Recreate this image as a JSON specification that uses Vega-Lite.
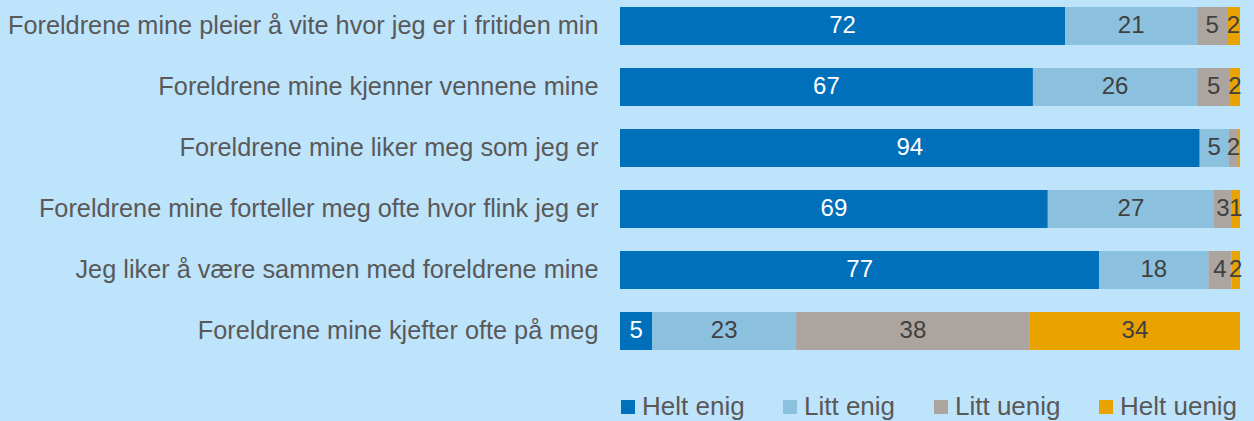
{
  "$schema": "https://vega.github.io/schema/vega-lite/v6.json",
  "autosize": "none",
  "width": 620,
  "height": 343,
  "padding": {"left": 620, "top": 7, "right": 14, "bottom": 71},
  "background": "#BEE4FC",
  "config": {
    "view": {"stroke": null},
    "font": "Liberation Sans"
  },
  "data": {
    "values": [
      {"q": "Foreldrene mine pleier å vite hvor jeg er i fritiden min", "c": "Helt enig", "k": 1, "v": 71.8, "label": "72"},
      {"q": "Foreldrene mine pleier å vite hvor jeg er i fritiden min", "c": "Litt enig", "k": 2, "v": 21.3, "label": "21"},
      {"q": "Foreldrene mine pleier å vite hvor jeg er i fritiden min", "c": "Litt uenig", "k": 3, "v": 4.8, "label": "5"},
      {"q": "Foreldrene mine pleier å vite hvor jeg er i fritiden min", "c": "Helt uenig", "k": 4, "v": 2.1, "label": "2"},
      {"q": "Foreldrene mine kjenner vennene mine", "c": "Helt enig", "k": 1, "v": 66.6, "label": "67"},
      {"q": "Foreldrene mine kjenner vennene mine", "c": "Litt enig", "k": 2, "v": 26.5, "label": "26"},
      {"q": "Foreldrene mine kjenner vennene mine", "c": "Litt uenig", "k": 3, "v": 5.3, "label": "5"},
      {"q": "Foreldrene mine kjenner vennene mine", "c": "Helt uenig", "k": 4, "v": 1.6, "label": "2"},
      {"q": "Foreldrene mine liker meg som jeg er", "c": "Helt enig", "k": 1, "v": 93.5, "label": "94"},
      {"q": "Foreldrene mine liker meg som jeg er", "c": "Litt enig", "k": 2, "v": 4.7, "label": "5"},
      {"q": "Foreldrene mine liker meg som jeg er", "c": "Litt uenig", "k": 3, "v": 1.5, "label": "2"},
      {"q": "Foreldrene mine liker meg som jeg er", "c": "Helt uenig", "k": 4, "v": 0.3, "label": ""},
      {"q": "Foreldrene mine forteller meg ofte hvor flink jeg er", "c": "Helt enig", "k": 1, "v": 69.0, "label": "69"},
      {"q": "Foreldrene mine forteller meg ofte hvor flink jeg er", "c": "Litt enig", "k": 2, "v": 26.8, "label": "27"},
      {"q": "Foreldrene mine forteller meg ofte hvor flink jeg er", "c": "Litt uenig", "k": 3, "v": 2.9, "label": "3"},
      {"q": "Foreldrene mine forteller meg ofte hvor flink jeg er", "c": "Helt uenig", "k": 4, "v": 1.3, "label": "1"},
      {"q": "Jeg liker å være sammen med foreldrene mine", "c": "Helt enig", "k": 1, "v": 77.3, "label": "77"},
      {"q": "Jeg liker å være sammen med foreldrene mine", "c": "Litt enig", "k": 2, "v": 17.6, "label": "18"},
      {"q": "Jeg liker å være sammen med foreldrene mine", "c": "Litt uenig", "k": 3, "v": 3.7, "label": "4"},
      {"q": "Jeg liker å være sammen med foreldrene mine", "c": "Helt uenig", "k": 4, "v": 1.4, "label": "2"},
      {"q": "Foreldrene mine kjefter ofte på meg", "c": "Helt enig", "k": 1, "v": 5.2, "label": "5"},
      {"q": "Foreldrene mine kjefter ofte på meg", "c": "Litt enig", "k": 2, "v": 23.2, "label": "23"},
      {"q": "Foreldrene mine kjefter ofte på meg", "c": "Litt uenig", "k": 3, "v": 37.7, "label": "38"},
      {"q": "Foreldrene mine kjefter ofte på meg", "c": "Helt uenig", "k": 4, "v": 33.9, "label": "34"}
    ]
  },
  "transform": [
    {"stack": "v", "groupby": ["q"], "sort": [{"field": "k", "order": "ascending"}], "as": ["x0", "x1"]}
  ],
  "encoding": {
    "y": {
      "field": "q",
      "type": "nominal",
      "sort": null,
      "scale": {"paddingInner": 0.377, "paddingOuter": 0},
      "axis": {
        "title": null,
        "domain": false,
        "ticks": false,
        "labelPadding": 22,
        "labelFontSize": 25.3,
        "labelColor": "#595959",
        "labelLimit": 0,
        "labelFont": "Liberation Sans"
      }
    }
  },
  "layer": [
    {
      "mark": {"type": "bar"},
      "encoding": {
        "x": {"field": "x0", "type": "quantitative", "scale": {"domain": [0, 100], "nice": false}, "axis": null},
        "x2": {"field": "x1"},
        "color": {
          "field": "c",
          "type": "nominal",
          "sort": ["Helt enig", "Litt enig", "Litt uenig", "Helt uenig"],
          "scale": {
            "domain": ["Helt enig", "Litt enig", "Litt uenig", "Helt uenig"],
            "range": ["#0070BA", "#8BC1DF", "#ACA59F", "#E9A300"]
          },
          "legend": {
            "title": null,
            "orient": "none",
            "legendX": -5,
            "legendY": 387,
            "direction": "horizontal",
            "symbolType": "square",
            "symbolSize": 196,
            "symbolStrokeWidth": 0,
            "labelFontSize": 26,
            "labelColor": "#595959",
            "labelFont": "Liberation Sans",
            "labelOffset": 1,
            "columnPadding": 32,
            "padding": 0
          }
        }
      }
    },
    {
      "transform": [
        {"fold": ["x0", "x1"], "as": ["edge", "pos"]}
      ],
      "mark": {"type": "text", "fontSize": 24, "font": "Liberation Sans", "baseline": "middle", "align": "center"},
      "encoding": {
        "x": {"aggregate": "mean", "field": "pos", "type": "quantitative"},
        "detail": {"field": "c", "type": "nominal"},
        "text": {"field": "label", "type": "nominal"},
        "color": {
          "condition": {"test": "datum.c === 'Helt enig'", "value": "#FFFFFF"},
          "value": "#404040"
        }
      }
    }
  ]
}
